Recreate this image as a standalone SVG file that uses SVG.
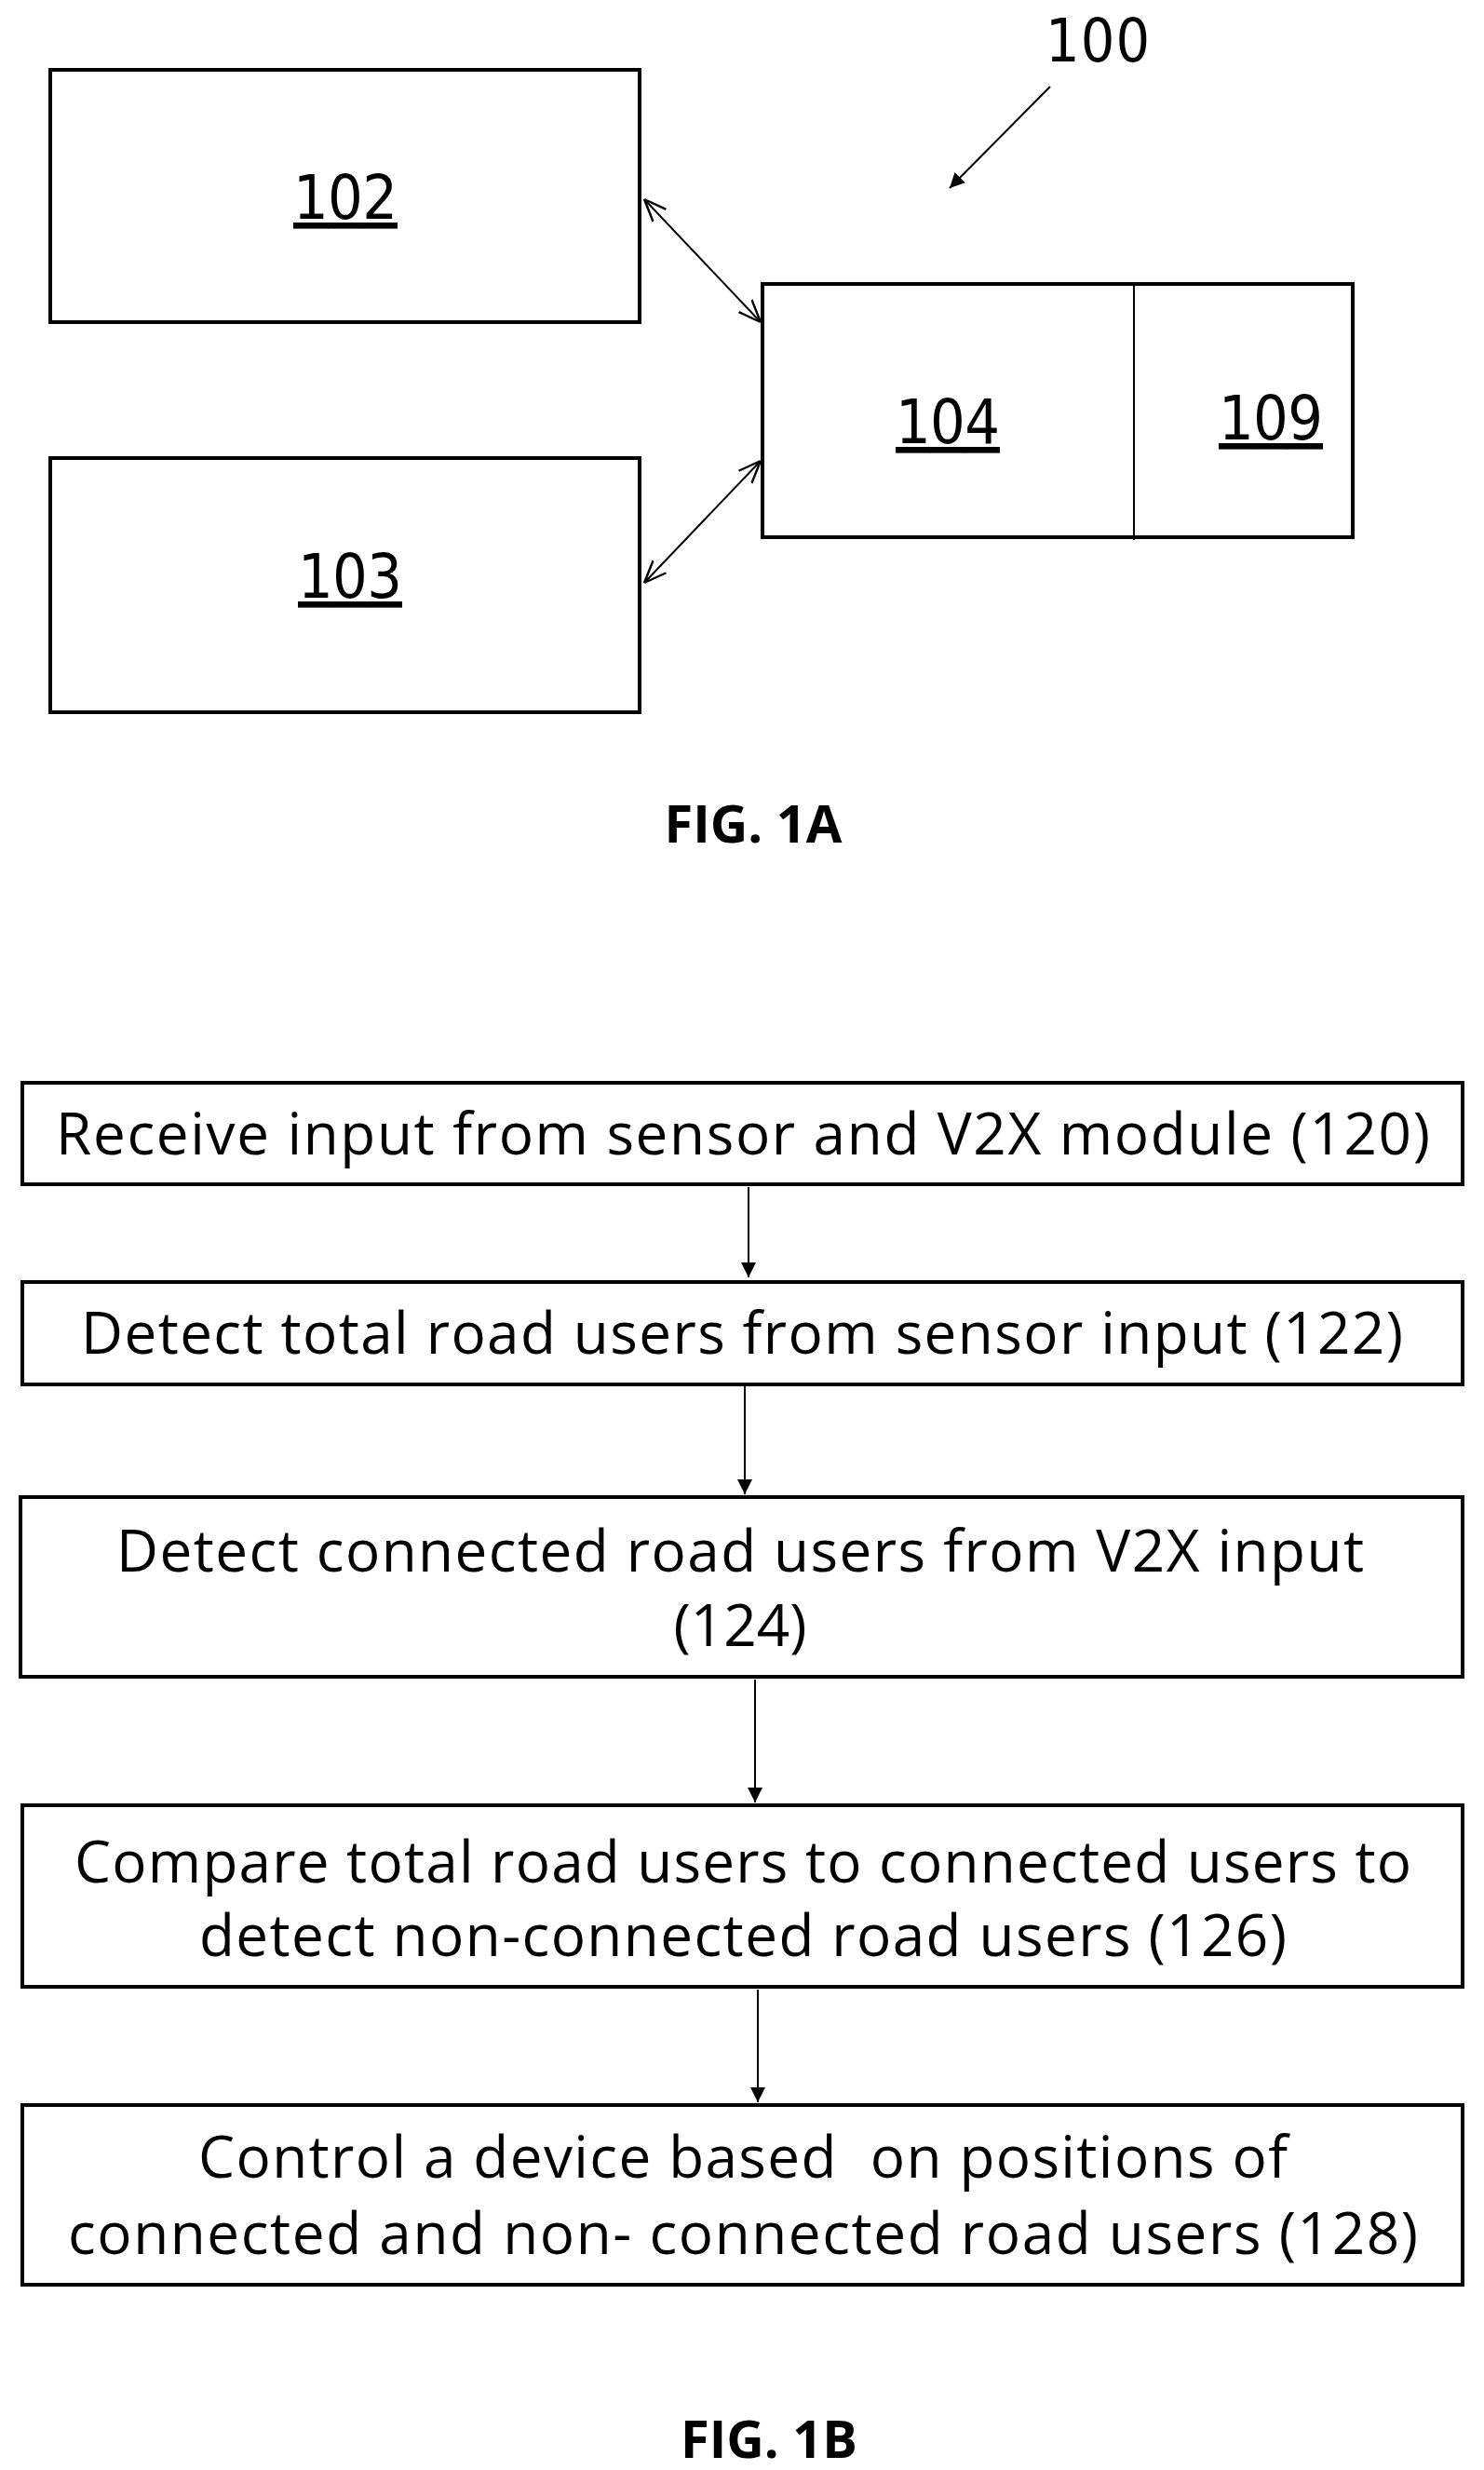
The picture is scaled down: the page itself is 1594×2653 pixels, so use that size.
<svg xmlns="http://www.w3.org/2000/svg" width="1594" height="2653" viewBox="0 0 1594 2653">
<defs>
<style>
.b{fill:#fff;stroke:#000;stroke-width:4}
.l{stroke:#000;stroke-width:2;fill:none}
.n{font-family:"DejaVu Sans Condensed","Liberation Sans",sans-serif;font-size:66px;text-decoration:underline;text-anchor:middle}
.t{font-family:"Open Sans","Liberation Sans",sans-serif;font-size:62px;text-anchor:middle}
.f{font-family:"Open Sans","Liberation Sans",sans-serif;font-size:56px;font-weight:bold;text-anchor:middle}
</style>
<marker id="a" viewBox="0 0 10 10" refX="10" refY="5" markerWidth="8" markerHeight="8" orient="auto-start-reverse"><path d="M0,0L10,5L0,10z" fill="#000"/></marker>
<marker id="o" viewBox="0 0 10 10" refX="10" refY="5" markerWidth="12" markerHeight="12" orient="auto-start-reverse"><path d="M0,1L10,5L0,9" fill="none" stroke="#000" stroke-width="1"/></marker>
</defs>
<rect width="1594" height="2653" fill="#fff"/>
<g id="n102"><rect class="b" x="54" y="75" width="633" height="271"/><text class="n" x="371" y="235" textLength="112">102</text></g>
<g id="n103"><rect class="b" x="54" y="492" width="633" height="273"/><text class="n" x="376" y="642" textLength="112">103</text></g>
<g id="n104"><rect class="b" x="819" y="305" width="634" height="272"/><line class="l" x1="1218" y1="305" x2="1218" y2="580"/><text class="n" x="1018" y="476" textLength="112">104</text><text class="n" x="1365" y="472" textLength="112">109</text></g>
<g id="lbl100"><text x="1179" y="66" font-family="DejaVu Sans Condensed,Liberation Sans,sans-serif" font-size="64" text-anchor="middle" textLength="112">100</text></g>
<g id="connectors">
<line class="l" x1="1128" y1="93" x2="1020" y2="202" marker-end="url(#a)" stroke-width="3"/>
<line class="l" x1="692" y1="214" x2="817" y2="346" marker-start="url(#o)" marker-end="url(#o)"/>
<line class="l" x1="692" y1="626" x2="817" y2="495" marker-start="url(#o)" marker-end="url(#o)"/>
<line class="l" x1="804" y1="1275" x2="804" y2="1372" marker-end="url(#a)"/>
<line class="l" x1="800" y1="1489" x2="800" y2="1605" marker-end="url(#a)"/>
<line class="l" x1="811" y1="1804" x2="811" y2="1936" marker-end="url(#a)"/>
<line class="l" x1="814" y1="2137" x2="814" y2="2258" marker-end="url(#a)"/>
</g>
<text class="f" x="809" y="905">FIG. 1A</text>
<g id="s120"><rect class="b" x="24" y="1163" width="1547" height="109"/><text class="t" x="798" y="1240" textLength="1476">Receive input from sensor and V2X module (120)</text></g>
<g id="s122"><rect class="b" x="24" y="1377" width="1547" height="110"/><text class="t" x="797" y="1454" textLength="1420">Detect total road users from sensor input (122)</text></g>
<g id="s124"><rect class="b" x="22" y="1608" width="1549" height="193"/><text class="t" x="795" y="1688" textLength="1340">Detect connected road users from V2X input</text><text class="t" x="795" y="1768">(124)</text></g>
<g id="s126"><rect class="b" x="24" y="1939" width="1547" height="195"/><text class="t" x="798" y="2022" textLength="1436">Compare total road users to connected users to</text><text class="t" x="798" y="2101" textLength="1168">detect non-connected road users (126)</text></g>
<g id="s128"><rect class="b" x="24" y="2261" width="1547" height="193"/><text class="t" x="798" y="2339" textLength="1170" xml:space="preserve">Control a device based  on positions of</text><text class="t" x="798" y="2421" textLength="1450">connected and non- connected road users (128)</text></g>
<text class="f" x="826" y="2640">FIG. 1B</text>
</svg>
